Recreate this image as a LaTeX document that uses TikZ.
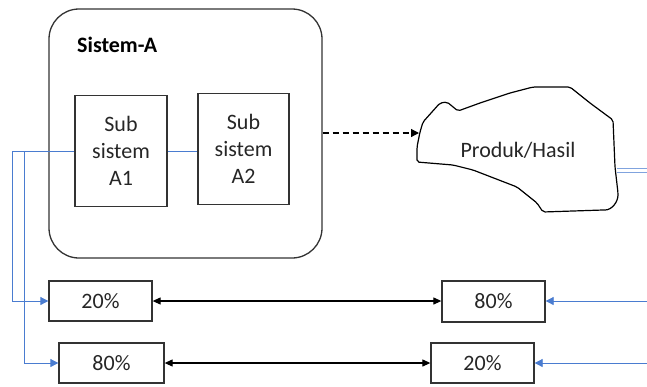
\documentclass[tikz,border=0pt]{standalone}
\usepackage{fontspec}
\setmainfont{Carlito}
\usetikzlibrary{arrows.meta,positioning,calc}

\definecolor{linkblue}{RGB}{74,124,208}

\begin{document}
\begin{tikzpicture}[
    x=1pt, y=-1pt,
    font=\fontsize{22}{27}\selectfont,
    sysbox/.style={draw=black!80, line width=1.3pt, rounded corners=30pt, minimum width=273pt, minimum height=249pt},
    subbox/.style={draw=black!80, line width=1.3pt, minimum width=92pt, minimum height=111pt, align=center, text=black!85},
    pctbox/.style={draw=black!80, line width=1.3pt, minimum width=103pt, minimum height=40pt, text=black!85},
    blueline/.style={draw=linkblue, line width=0.8pt},
    bluearrow/.style={blueline, -{Triangle[length=8pt, width=8pt]}},
    both/.style={{Triangle[length=8pt, width=7pt]}-{Triangle[length=8pt, width=7pt]}, line width=1.1pt},
    flow/.style={-{Triangle[length=8pt, width=8pt]}, dash pattern=on 6pt off 4pt, line width=1.2pt}
]
    \useasboundingbox (0,0) rectangle (647,386);

    % Sistem-A dengan dua sub sistem
    \node[sysbox] (sistemA) at (185.5,133.5) {};
    \node[anchor=west, inner sep=0pt, font=\fontsize{22}{27}\selectfont\bfseries] (judulA) at (77,45) {Sistem-A};
    \node[subbox] (subA1) at (121,151) {Sub\\sistem\\A1};
    \node[subbox, minimum width=91pt] (subA2) at (243.5,149) {Sub\\sistem\\A2};

    % Produk/Hasil (awan)
    \draw[line width=1.2pt, rounded corners=2pt]
        (420,132) -- (423,122) -- (440,103) -- (447,102) -- (458,111) -- (480,103)
        -- (510,93) -- (533,87) -- (570,87) -- (590,103) -- (613,120) -- (615,167)
        -- (618,193) to[out=90+180,in=0] (603,210) -- (543,212) -- (537,203) -- (517,187)
        -- (473,170) -- (453,165) -- (417,162) -- (417,147) -- cycle;
    \node[text=black!85] (produk) at (518,150) {Produk/Hasil};
    \coordinate (awanW) at (419,133);
    \coordinate (awanE) at (617,170.5);
    \coordinate (tepiE) at (647,170.5);

    % Kotak persentase
    \node[pctbox] (kiri20) at (100.5,301) {20\%};
    \node[pctbox, minimum width=105pt] (kiri80) at (111.5,363) {80\%};
    \node[pctbox, minimum height=41pt] (kanan80) at (493.5,301.5) {80\%};
    \node[pctbox] (kanan20) at (482.5,363) {20\%};

    % Titik bantu garis biru
    \coordinate (bus1) at (12,151);
    \coordinate (bus2) at (24,151);
    \coordinate (masuk1) at (647,301);
    \coordinate (masuk2) at (647,363);

    % Hubungan
    \draw[flow] (sistemA.east |- awanW) -- (awanW);
    \draw[blueline] (subA1.east) -- (subA1.east -| subA2.west);
    \draw[bluearrow] (subA1.west) -- (bus1) |- (kiri20.west);
    \draw[bluearrow] (bus2) |- (kiri80.west);
    \draw[both] (kiri20.east) -- (kiri20.east -| kanan80.west);
    \draw[both] (kiri80.east) -- (kiri80.east -| kanan20.west);
    \draw[bluearrow] (masuk1) -- (masuk1 -| kanan80.east);
    \draw[bluearrow] (masuk2) -- (kanan20.east);
    \draw[draw=linkblue!70, double, double distance=3pt, line width=0.7pt] (awanE) -- (tepiE);

\end{tikzpicture}
\end{document}
